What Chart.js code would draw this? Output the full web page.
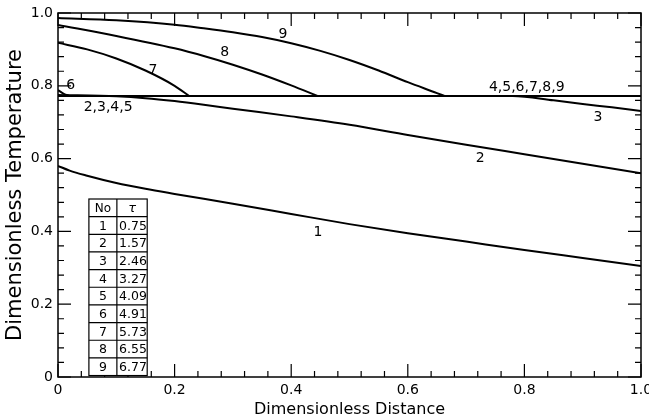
<!DOCTYPE html>
<html>
<head>
<meta charset="utf-8">
<script src="https://cdn.jsdelivr.net/npm/chart.js@4/dist/chart.umd.min.js"></script>
<style>
  html, body { margin: 0; padding: 0; background: #fff; }
  #wrap { width: 649px; height: 420px; }
</style>
</head>
<body>
<div id="wrap"><canvas id="c" width="649" height="420"></canvas></div>
<script>
// ---- data ----
const c1X = [0, 0.02, 0.05, 0.1, 0.15, 0.2, 0.3, 0.4, 0.5, 0.6, 0.7, 0.8, 0.9, 1.0];
const c1Y = [0.58, 0.567, 0.553, 0.533, 0.517, 0.503, 0.476, 0.448, 0.420, 0.395, 0.372, 0.349, 0.327, 0.305];
const c2X = [0, 0.1, 0.15, 0.2, 0.25, 0.3, 0.4, 0.5, 0.6, 0.7, 0.8, 0.9, 1.0];
const c2Y = [0.775, 0.771, 0.766, 0.758, 0.748, 0.737, 0.716, 0.693, 0.665, 0.638, 0.612, 0.586, 0.56];
const c3X = [0, 0.78, 0.85, 0.9, 0.95, 1.0];
const c3Y = [0.772, 0.772, 0.760, 0.750, 0.741, 0.731];
const c4X = [0, 1.0];
const c4Y = [0.772, 0.772];
const c5X = [0, 1.0];
const c5Y = [0.772, 0.772];
const c6X = [0, 0.01, 0.02];
const c6Y = [0.788, 0.778, 0.772];
const c7X = [0, 0.05, 0.1, 0.15, 0.2, 0.225];
const c7Y = [0.918, 0.900, 0.875, 0.842, 0.800, 0.772];
const c8X = [0, 0.1, 0.2, 0.25, 0.3, 0.35, 0.4, 0.445];
const c8Y = [0.967, 0.937, 0.903, 0.882, 0.858, 0.831, 0.801, 0.772];
const c9X = [0, 0.1, 0.2, 0.25, 0.3, 0.35, 0.4, 0.45, 0.5, 0.55, 0.6, 0.65, 0.663];
const c9Y = [0.986, 0.980, 0.968, 0.958, 0.947, 0.934, 0.917, 0.896, 0.871, 0.842, 0.810, 0.780, 0.772];

const tableNo  = ['1', '2', '3', '4', '5', '6', '7', '8', '9'];
const tableTau = ['0.75', '1.57', '2.46', '3.27', '4.09', '4.91', '5.73', '6.55', '6.77'];

const curveLabels = ['1', '2', '3', '4,5,6,7,8,9', '2,3,4,5', '6', '7', '8', '9'];
const curveLabelX = [0.446, 0.724, 0.926, 0.804, 0.086, 0.022, 0.163, 0.286, 0.386];
const curveLabelY = [0.396, 0.602, 0.714, 0.797, 0.742, 0.802, 0.843, 0.893, 0.940];

const xTitle = 'Dimensionless Distance';
const yTitle = 'Dimensionless Temperature';

// ---- build datasets ----
const curves = [[c1X,c1Y],[c2X,c2Y],[c3X,c3Y],[c4X,c4Y],[c5X,c5Y],[c6X,c6Y],[c7X,c7Y],[c8X,c8Y],[c9X,c9Y]];
const datasets = curves.map(([xs, ys], i) => ({
  label: 'Curve ' + (i + 1),
  data: xs.map((x, k) => ({x: x, y: ys[k]})),
  borderColor: '#000',
  borderWidth: 2,
  pointRadius: 0,
  fill: false,
  cubicInterpolationMode: 'monotone'
}));

const FONT = '"DejaVu Sans", sans-serif';

const decorPlugin = {
  id: 'decor',
  afterDatasetsDraw(chart) {
    const {ctx, chartArea: a, scales: {x, y}} = chart;
    ctx.save();
    // frame
    ctx.strokeStyle = '#000';
    ctx.lineWidth = 1.5;
    ctx.strokeRect(a.left, a.top, a.right - a.left, a.bottom - a.top);
    // inward ticks on all sides
    ctx.lineWidth = 1.2;
    for (let i = 0; i <= 25; i++) {
      const v = i * 0.04;
      const major = (i % 5 === 0);
      const len = major ? 13 : 6;
      const px = x.getPixelForValue(v);
      const py = y.getPixelForValue(v);
      ctx.beginPath();
      ctx.moveTo(px, a.bottom); ctx.lineTo(px, a.bottom - len);
      ctx.moveTo(px, a.top); ctx.lineTo(px, a.top + len);
      ctx.moveTo(a.left, py); ctx.lineTo(a.left + len, py);
      ctx.moveTo(a.right, py); ctx.lineTo(a.right - len, py);
      ctx.stroke();
    }
    // curve labels
    ctx.fillStyle = '#000';
    ctx.font = '14px ' + FONT;
    ctx.textAlign = 'center';
    ctx.textBaseline = 'middle';
    curveLabels.forEach((t, i) => {
      ctx.fillText(t, x.getPixelForValue(curveLabelX[i]), y.getPixelForValue(curveLabelY[i]));
    });
    // table
    const tl = x.getPixelForValue(0.053), tm = x.getPixelForValue(0.101), tr = x.getPixelForValue(0.153);
    const tt = y.getPixelForValue(0.489), tb = y.getPixelForValue(0.004);
    const rows = tableNo.length + 1;
    const rh = (tb - tt) / rows;
    ctx.fillStyle = '#fff';
    ctx.fillRect(tl, tt, tr - tl, tb - tt);
    ctx.strokeStyle = '#000';
    ctx.lineWidth = 1.2;
    ctx.strokeRect(tl, tt, tr - tl, tb - tt);
    ctx.beginPath();
    ctx.moveTo(tm, tt); ctx.lineTo(tm, tb);
    for (let r = 1; r < rows; r++) {
      ctx.moveTo(tl, tt + r * rh); ctx.lineTo(tr, tt + r * rh);
    }
    ctx.stroke();
    ctx.fillStyle = '#000';
    ctx.font = '12px ' + FONT;
    ctx.fillText('No', (tl + tm) / 2, tt + rh / 2 + 1);
    ctx.font = 'italic 13px ' + FONT;
    ctx.fillText('τ', (tm + tr) / 2, tt + rh / 2 + 1);
    ctx.font = '12.5px ' + FONT;
    for (let r = 0; r < tableNo.length; r++) {
      const cy = tt + (r + 1.5) * rh + 1;
      ctx.fillText(tableNo[r], (tl + tm) / 2, cy);
      ctx.fillText(tableTau[r], (tm + tr) / 2 + 1, cy);
    }
    ctx.restore();
  }
};

const fmt = v => (Math.abs(v) < 1e-9 ? '0' : v.toFixed(1));

new Chart(document.getElementById('c'), {
  type: 'line',
  data: { datasets: datasets },
  options: {
    responsive: false,
    animation: false,
    devicePixelRatio: 1,
    layout: { padding: { top: 13, right: 8, left: 0, bottom: 0 } },
    plugins: { legend: { display: false }, tooltip: { enabled: false } },
    scales: {
      x: {
        type: 'linear', min: 0, max: 1,
        grid: { display: false, drawTicks: false },
        border: { display: false },
        ticks: { stepSize: 0.2, color: '#000', padding: 5, font: { family: FONT, size: 14 }, callback: fmt, maxRotation: 0 },
        title: { display: true, text: xTitle, color: '#000', font: { family: FONT, size: 16 }, padding: { top: 0, bottom: 1 } },
        afterFit(s) { s.height = 43; s.paddingLeft = 0; s.paddingRight = 0; }
      },
      y: {
        type: 'linear', min: 0, max: 1,
        grid: { display: false, drawTicks: false },
        border: { display: false },
        ticks: { stepSize: 0.2, color: '#000', padding: 5, font: { family: FONT, size: 14 }, callback: fmt },
        title: { display: true, text: yTitle, color: '#000', font: { family: FONT, size: 21 }, padding: { top: 3, bottom: 0 } },
        afterFit(s) { s.width = 58; s.paddingTop = 0; s.paddingBottom = 0; }
      }
    }
  },
  plugins: [decorPlugin]
});
</script>
</body>
</html>
